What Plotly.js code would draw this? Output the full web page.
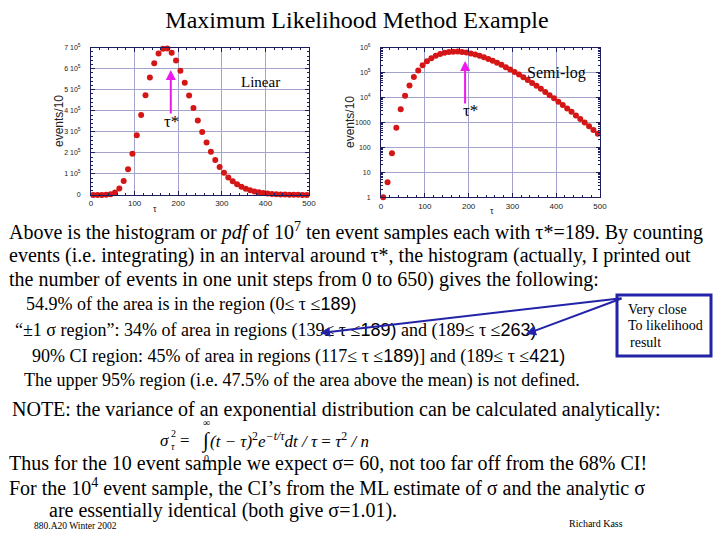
<!DOCTYPE html>
<html>
<head>
<meta charset="utf-8">
<script src="https://cdn.plot.ly/plotly-3.0.1.min.js"></script>
<style>
  html, body { margin: 0; padding: 0; background: #ffffff; }
  #slide { width: 720px; height: 540px; }
</style>
</head>
<body>
<div id="slide"></div>
<script>
// Histogram of the ML estimate of tau for 10^7 ten-event samples (bins of width 10)
const tauBins = [5, 15, 25, 35, 45, 55, 65, 75, 85, 95,
  105, 115, 125, 135, 145, 155, 165, 175, 185, 195,
  205, 215, 225, 235, 245, 255, 265, 275, 285, 295,
  305, 315, 325, 335, 345, 355, 365, 375, 385, 395,
  405, 415, 425, 435, 445, 455, 465, 475, 485, 495];
const eventsPer10 = [1, 4, 58, 620, 3400, 11800, 30500, 67000, 122000, 196000,
  284000, 380000, 474000, 558000, 626000, 672000, 695000, 696000, 676000, 639000,
  590000, 534000, 473000, 413000, 354000, 299000, 249000, 205000, 166000, 133000,
  106000, 83600, 65200, 50500, 38800, 29600, 22400, 16800, 12500, 9300,
  6850, 5030, 3670, 2670, 1930, 1390, 1000, 710, 505, 357];

// Axis ticks
const tauTicks = [0, 100, 200, 300, 400, 500];
const linTickVals = [0, 100000, 200000, 300000, 400000, 500000, 600000, 700000];
const linTickText = ['0', '1 10<sup>5</sup>', '2 10<sup>5</sup>', '3 10<sup>5</sup>', '4 10<sup>5</sup>',
  '5 10<sup>5</sup>', '6 10<sup>5</sup>', '7 10<sup>5</sup>'];
const logTickVals = [1, 10, 100, 1000, 10000, 100000, 1000000];
const logTickText = ['1', '10', '100', '1000', '10<sup>4</sup>', '10<sup>5</sup>', '10<sup>6</sup>'];

// Marked estimate
const tauStar = 189;

const W = 720, H = 540;
const px = x => x / W;
const py = y => 1 - y / H;

const SERIF = 'Liberation Serif, Times New Roman, serif';
const SANS = 'Liberation Sans, Arial, sans-serif';
const DOT = '#d41616';
const GRID = '#a3a3cc';
const FRAME = '#1d1d5e';
const MAGENTA = '#ee18ee';
const BLUE = '#2323a8';

const traces = [
  { x: tauBins, y: eventsPer10, type: 'scatter', mode: 'markers', xaxis: 'x', yaxis: 'y',
    marker: { color: DOT, size: 6 }, cliponaxis: false, hoverinfo: 'skip' },
  { x: tauBins, y: eventsPer10, type: 'scatter', mode: 'markers', xaxis: 'x2', yaxis: 'y2',
    marker: { color: DOT, size: 6 }, cliponaxis: false, hoverinfo: 'skip' }
];

function axisStyle(extra) {
  return Object.assign({
    showgrid: true, gridcolor: GRID, gridwidth: 1,
    showline: true, linecolor: FRAME, linewidth: 1, mirror: 'ticks',
    ticks: 'inside', ticklen: 4, tickcolor: FRAME, tickwidth: 1,
    zeroline: false, fixedrange: true,
    tickfont: { family: SANS, size: 8, color: '#222222' }
  }, extra);
}
const smallTicks = { family: SANS, size: 7, color: '#222222' };

const layout = {
  width: W, height: H,
  margin: { l: 0, r: 0, t: 0, b: 0 },
  paper_bgcolor: '#ffffff', plot_bgcolor: '#ffffff',
  showlegend: false,
  title: { text: 'Maximum Likelihood Method Example', x: px(357), y: py(20),
    xanchor: 'center', yanchor: 'middle', font: { family: SERIF, size: 24, color: '#000000' } },
  xaxis: axisStyle({ domain: [px(91), px(309)], range: [0, 500], tickvals: tauTicks, anchor: 'y',
    ticklabelstandoff: 0,
    minor: { ticks: 'inside', ticklen: 2, dtick: 20, tickcolor: FRAME, showgrid: false } }),
  yaxis: axisStyle({ domain: [py(195), py(47.7)], range: [0, 700000], tickvals: linTickVals,
    ticktext: linTickText, anchor: 'x', ticklabelstandoff: 8, tickfont: smallTicks,
    minor: { ticks: 'inside', ticklen: 2, dtick: 20000, tickcolor: FRAME, showgrid: false } }),
  xaxis2: axisStyle({ domain: [px(381), px(600)], range: [0, 500], tickvals: tauTicks, anchor: 'y2',
    ticklabelstandoff: 1,
    minor: { ticks: 'inside', ticklen: 2, dtick: 20, tickcolor: FRAME, showgrid: false } }),
  yaxis2: axisStyle({ domain: [py(197.3), py(47.7)], type: 'log', range: [0, 6], tickvals: logTickVals,
    ticktext: logTickText, anchor: 'x2', ticklabelstandoff: 8, tickfont: smallTicks,
    minor: { ticks: 'inside', ticklen: 2, dtick: 'D1', tickcolor: FRAME, showgrid: false } }),
  shapes: [
    { type: 'rect', xref: 'paper', yref: 'paper', x0: px(617), x1: px(711), y0: py(356), y1: py(295),
      line: { color: BLUE, width: 3 }, fillcolor: 'rgba(0,0,0,0)' }
  ],
  annotations: []
};

const A = layout.annotations;
function txt(x, y, text, size, opts) {
  A.push(Object.assign({ xref: 'paper', yref: 'paper', x: px(x), y: py(y), text: text,
    showarrow: false, xanchor: 'left', yanchor: 'middle',
    font: { family: SERIF, size: size, color: '#000000' } }, opts || {}));
}

// Axis titles
txt(59, 121, 'events/10', 12, { xanchor: 'center', textangle: -90, font: { family: SANS, size: 12, color: '#222222' } });
txt(350, 122, 'events/10', 12, { xanchor: 'center', textangle: -90, font: { family: SANS, size: 12, color: '#222222' } });
txt(155, 209, 'τ', 9, { xanchor: 'center', font: { family: SANS, size: 9, color: '#222222' } });
txt(492, 211, 'τ', 9, { xanchor: 'center', font: { family: SANS, size: 9, color: '#222222' } });

// tau* arrows and plot labels
A.push({ xref: 'x', yref: 'y', x: tauStar - 6, y: 594000, axref: 'x', ayref: 'y', ax: tauStar - 6, ay: 380000,
  showarrow: true, arrowhead: 2, arrowsize: 1, arrowwidth: 2, arrowcolor: MAGENTA, text: '' });
A.push({ xref: 'x', yref: 'y', x: tauStar - 4, y: 347000, text: 'τ*', showarrow: false,
  xanchor: 'center', yanchor: 'middle', font: { family: SERIF, size: 17, color: '#000000' } });
A.push({ xref: 'x', yref: 'y', x: 388, y: 537000, text: 'Linear', showarrow: false,
  xanchor: 'center', yanchor: 'middle', font: { family: SERIF, size: 15, color: '#000000' } });

A.push({ xref: 'x2', yref: 'y2', x: tauStar + 3, y: 5.47, axref: 'x2', ayref: 'y2', ax: tauStar + 3, ay: 3.7,
  showarrow: true, arrowhead: 2, arrowsize: 1, arrowwidth: 2, arrowcolor: MAGENTA, text: '' });
A.push({ xref: 'x2', yref: 'y2', x: tauStar + 15, y: 3.5, text: 'τ*', showarrow: false,
  xanchor: 'center', yanchor: 'middle', font: { family: SERIF, size: 17, color: '#000000' } });
A.push({ xref: 'x2', yref: 'y2', x: 400, y: 4.99, text: 'Semi-log', showarrow: false,
  xanchor: 'center', yanchor: 'middle', font: { family: SERIF, size: 16, color: '#000000' } });

// Body text
const P = 20;
txt(7, 231, 'Above is the histogram or <i>pdf</i> of 10<sup>7</sup> ten event samples each with τ*=' + tauStar + '. By counting', P);
txt(7, 255, 'events (i.e. integrating) in an interval around τ*, the histogram (actually, I printed out', P);
txt(7, 279, 'the number of events in one unit steps from 0 to 650) gives the following:', P);

const sans = s => '<span style="font-family:Liberation Sans">' + s + '</span>';
const B = 18;
txt(24, 304, '54.9% of the area is in the region (0≤ τ ≤' + sans('189)'), B);
txt(13, 330, '“±1 σ region”: 34% of area in regions (139≤ τ ≤' + sans('189)') + ' and (189≤ τ ≤' + sans('263)'), B);
txt(30, 356, '90% CI region: 45% of area in regions (117≤ τ ≤' + sans('189)') + '] and (189≤ τ ≤' + sans('421)'), B);
txt(22, 380, 'The upper 95% region (i.e. 47.5% of the area above the mean) is not defined.', 18);

// Callout box
txt(626, 309, 'Very close', 14);
txt(626, 325, 'To likelihood', 14);
txt(628, 342, 'result', 14);
A.push({ xref: 'paper', yref: 'paper', x: px(320), y: py(333), axref: 'pixel', ayref: 'pixel', ax: 303, ay: -35,
  showarrow: true, arrowhead: 2, arrowsize: 1, arrowwidth: 2, arrowcolor: BLUE, text: '' });
A.push({ xref: 'paper', yref: 'paper', x: px(526), y: py(334), axref: 'pixel', ayref: 'pixel', ax: 97, ay: -36,
  showarrow: true, arrowhead: 2, arrowsize: 1, arrowwidth: 2, arrowcolor: BLUE, text: '' });

txt(10, 409, 'NOTE: the variance of an exponential distribution can be calculated analytically:', P);

// Variance formula
const F = 17;
txt(158, 440, '<i>σ</i>', F);
txt(169, 433, '2', 10);
txt(169, 446, '<i>τ</i>', 10);
txt(178, 440, '=', F);
txt(199, 440, '∫', 21);
txt(201, 422, '∞', 10);
txt(202, 458, '0', 10);
txt(208, 440, '<i>(t − τ)</i><sup>2</sup><i>e</i><sup><i>−t/τ</i></sup><i>dt / τ</i> = <i>τ</i><sup>2</sup> <i>/ n</i>', F);

txt(7, 463, 'Thus for the 10 event sample we expect σ= 60, not too far off from the 68% CI!', P);
txt(7, 487, 'For the 10<sup>4</sup> event sample, the CI’s from the ML estimate of σ and the analytic σ', P);
txt(47, 510, 'are essentially identical (both give σ=1.01).', P);

txt(32, 526, '880.A20 Winter 2002', 9.5);
txt(567, 523, 'Richard Kass', 10);

Plotly.newPlot('slide', traces, layout, { staticPlot: true, displayModeBar: false });
</script>
</body>
</html>
